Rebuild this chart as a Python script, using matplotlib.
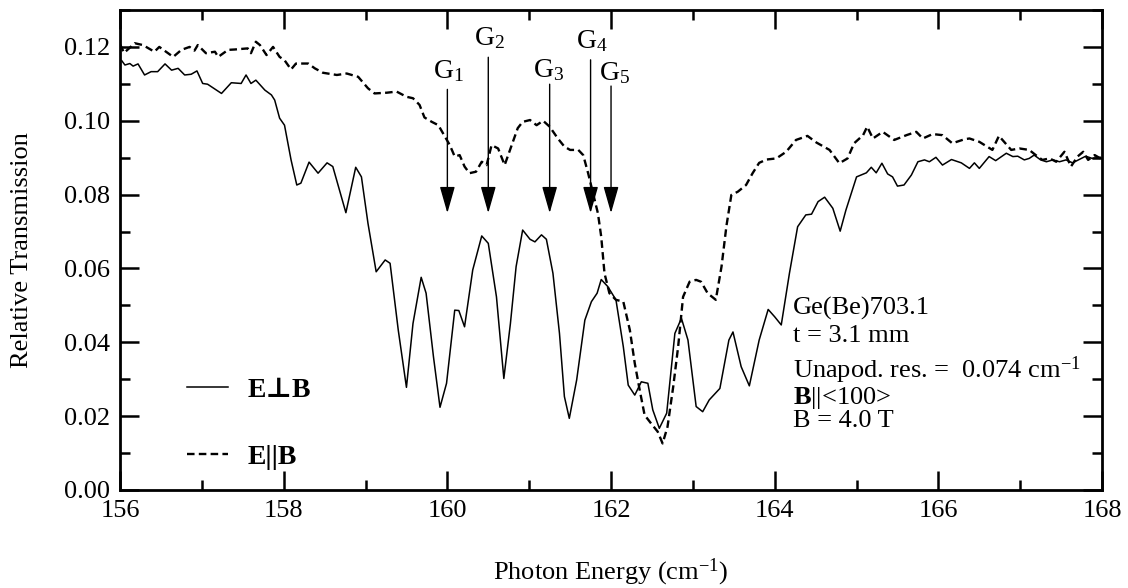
import matplotlib
matplotlib.use("Agg")
import matplotlib.pyplot as plt
from matplotlib.ticker import MultipleLocator, FormatStrFormatter
from matplotlib.font_manager import FontProperties

plt.rcParams['font.family'] = ['Liberation Serif', 'DejaVu Serif']
plt.rcParams['mathtext.fontset'] = 'custom'
plt.rcParams['mathtext.rm'] = 'Liberation Serif'
plt.rcParams['mathtext.bf'] = 'Liberation Serif:bold'
plt.rcParams['mathtext.it'] = 'Liberation Serif:italic'
plt.rcParams['mathtext.default'] = 'regular'

# ---- data: E perpendicular B (solid) ----
perp_E = [156.02, 156.06, 156.12, 156.16, 156.22, 156.30, 156.38, 156.46, 156.55, 156.63,
          156.71, 156.79, 156.87, 156.94, 157.01, 157.07, 157.24, 157.36, 157.48, 157.54,
          157.60, 157.66, 157.77, 157.85, 157.89, 157.95, 158.01, 158.09, 158.16, 158.21,
          158.31, 158.42, 158.53, 158.60, 158.76, 158.88, 158.95, 159.03, 159.13, 159.24,
          159.30, 159.40, 159.50, 159.58, 159.68, 159.74, 159.83, 159.91, 159.99, 160.09,
          160.14, 160.21, 160.31, 160.42, 160.50, 160.60, 160.69, 160.77, 160.84, 160.92,
          161.01, 161.07, 161.15, 161.21, 161.29, 161.37, 161.43, 161.49, 161.58, 161.68,
          161.76, 161.83, 161.88, 161.96, 162.06, 162.15, 162.21, 162.29, 162.37, 162.45,
          162.51, 162.59, 162.68, 162.78, 162.86, 162.94, 163.04, 163.12, 163.20, 163.33,
          163.44, 163.49, 163.59, 163.69, 163.81, 163.92, 164.00, 164.08, 164.18, 164.28,
          164.38, 164.45, 164.53, 164.61, 164.71, 164.80, 164.87, 165.00, 165.12, 165.18,
          165.24, 165.31, 165.38, 165.44, 165.50, 165.58, 165.67, 165.75, 165.83, 165.89,
          165.97, 166.05, 166.16, 166.28, 166.38, 166.44, 166.50, 166.62, 166.70, 166.83,
          166.91, 166.97, 167.05, 167.11, 167.17, 167.25, 167.32, 167.40, 167.48, 167.56,
          167.64, 167.72, 167.80, 167.88, 167.98]
perp_T = [0.1163, 0.1151, 0.1155, 0.1148, 0.1154, 0.1124, 0.1133, 0.1133, 0.1154, 0.1137,
          0.1142, 0.1124, 0.1126, 0.1135, 0.1101, 0.1099, 0.1074, 0.1103, 0.1101, 0.1124,
          0.1101, 0.1110, 0.1083, 0.1070, 0.1056, 0.1007, 0.0988, 0.0894, 0.0826, 0.0831,
          0.0888, 0.0858, 0.0886, 0.0876, 0.0751, 0.0874, 0.0848, 0.0722, 0.0591, 0.0623,
          0.0614, 0.0433, 0.0278, 0.0451, 0.0576, 0.0533, 0.0361, 0.0224, 0.0289, 0.0487,
          0.0486, 0.0442, 0.0596, 0.0688, 0.0668, 0.0523, 0.0302, 0.0450, 0.0605, 0.0704,
          0.0679, 0.0672, 0.0691, 0.0679, 0.0587, 0.0424, 0.0253, 0.0194, 0.0298, 0.0460,
          0.0510, 0.0533, 0.0570, 0.0551, 0.0515, 0.0388, 0.0284, 0.0257, 0.0293, 0.0289,
          0.0217, 0.0167, 0.0208, 0.0424, 0.0465, 0.0406, 0.0226, 0.0212, 0.0244, 0.0275,
          0.0406, 0.0428, 0.0334, 0.0282, 0.0406, 0.0489, 0.0469, 0.0447, 0.0587, 0.0713,
          0.0745, 0.0747, 0.0781, 0.0793, 0.0763, 0.0701, 0.0758, 0.0848, 0.0859, 0.0874,
          0.0859, 0.0885, 0.0856, 0.0848, 0.0823, 0.0826, 0.0853, 0.0889, 0.0894, 0.0889,
          0.0901, 0.0880, 0.0895, 0.0886, 0.0871, 0.0886, 0.0871, 0.0903, 0.0892, 0.0912,
          0.0903, 0.0904, 0.0894, 0.0898, 0.0907, 0.0894, 0.0889, 0.0894, 0.0889, 0.0894,
          0.0886, 0.0895, 0.0904, 0.0898, 0.0901]

# ---- data: E parallel B (dashed) ----
par_E = [156.00, 156.05, 156.18, 156.28, 156.42, 156.48, 156.65, 156.75, 156.85, 156.91,
         156.95, 157.05, 157.16, 157.20, 157.32, 157.40, 157.56, 157.60, 157.66, 157.71,
         157.79, 157.87, 157.95, 158.01, 158.09, 158.15, 158.30, 158.38, 158.48, 158.65,
         158.77, 158.91, 159.03, 159.11, 159.26, 159.38, 159.50, 159.58, 159.66, 159.72,
         159.81, 159.89, 159.97, 160.03, 160.09, 160.15, 160.21, 160.27, 160.35, 160.42,
         160.48, 160.54, 160.62, 160.70, 160.78, 160.86, 160.92, 161.01, 161.09, 161.17,
         161.25, 161.35, 161.43, 161.50, 161.60, 161.66, 161.72, 161.78, 161.84, 161.88,
         161.92, 161.98, 162.06, 162.15, 162.23, 162.29, 162.35, 162.41, 162.49, 162.57,
         162.63, 162.69, 162.76, 162.82, 162.88, 162.96, 163.04, 163.10, 163.18, 163.28,
         163.35, 163.41, 163.47, 163.55, 163.65, 163.73, 163.81, 163.90, 164.02, 164.14,
         164.26, 164.40, 164.51, 164.67, 164.79, 164.89, 164.97, 165.08, 165.13, 165.20,
         165.32, 165.46, 165.61, 165.73, 165.81, 165.93, 166.05, 166.17, 166.32, 166.38,
         166.50, 166.66, 166.74, 166.89, 166.99, 167.11, 167.19, 167.27, 167.36, 167.44,
         167.54, 167.62, 167.70, 167.77, 167.83, 167.91, 167.98]
par_T = [0.1207, 0.1184, 0.1210, 0.1205, 0.1187, 0.1200, 0.1173, 0.1192, 0.1200, 0.1190,
         0.1205, 0.1183, 0.1187, 0.1173, 0.1192, 0.1193, 0.1196, 0.1183, 0.1214, 0.1205,
         0.1178, 0.1200, 0.1173, 0.1164, 0.1139, 0.1155, 0.1155, 0.1142, 0.1130, 0.1124,
         0.1128, 0.1119, 0.1088, 0.1074, 0.1076, 0.1079, 0.1065, 0.1061, 0.1043, 0.1009,
         0.0997, 0.0988, 0.0957, 0.0934, 0.0903, 0.0907, 0.0876, 0.0858, 0.0862, 0.0889,
         0.0880, 0.0934, 0.0925, 0.0880, 0.0930, 0.0980, 0.0997, 0.1002, 0.0988, 0.1000,
         0.0984, 0.0952, 0.0930, 0.0921, 0.0921, 0.0907, 0.0858, 0.0803, 0.0749, 0.0686,
         0.0587, 0.0533, 0.0515, 0.0510, 0.0433, 0.0343, 0.0271, 0.0203, 0.0180, 0.0158,
         0.0126, 0.0171, 0.0280, 0.0388, 0.0523, 0.0564, 0.0569, 0.0564, 0.0533, 0.0515,
         0.0605, 0.0715, 0.0799, 0.0808, 0.0826, 0.0858, 0.0886, 0.0895, 0.0898, 0.0916,
         0.0948, 0.0959, 0.0941, 0.0921, 0.0885, 0.0898, 0.0939, 0.0961, 0.0984, 0.0952,
         0.0970, 0.0948, 0.0961, 0.0970, 0.0952, 0.0964, 0.0961, 0.0939, 0.0950, 0.0952,
         0.0943, 0.0921, 0.0959, 0.0921, 0.0925, 0.0921, 0.0907, 0.0894, 0.0898, 0.0889,
         0.0916, 0.0876, 0.0903, 0.0916, 0.0894, 0.0907, 0.0898]

# ---- arrows G1..G5 ----
arrow_E = [160.0, 160.5, 161.25, 161.75, 162.0]
arrow_top = [0.1085, 0.1172, 0.1099, 0.1165, 0.1094]
arrow_tip = [0.075, 0.075, 0.075, 0.075, 0.075]
label_E = [160.01, 160.52, 161.24, 161.76, 162.04]
label_T = [0.1116, 0.1205, 0.1118, 0.1197, 0.1110]
label_txt = ["G$_1$", "G$_2$", "G$_3$", "G$_4$", "G$_5$"]

legend_labels = ["E\u22a5B", "E||B"]
info_lines = ["Ge(Be)703.1", "t = 3.1 mm", "Unapod. res. =  0.074 cm$^{-1}$",
              "$\\mathbf{B}$||<100>", "B = 4.0 T"]
info_y = [0.3646, 0.309, 0.2333, 0.180, 0.131]

fig = plt.figure(figsize=(11.28, 5.88), dpi=100)
ax = fig.add_axes([0.1064, 0.1667, 0.8706, 0.8163])

l1, = ax.plot(perp_E, perp_T, color='black', lw=1.1, label=legend_labels[0])
l2, = ax.plot(par_E, par_T, color='black', lw=1.7, dashes=(3.2, 1.8), label=legend_labels[1])

ax.set_xlim(156, 168)
ax.set_ylim(0, 0.13)
ax.xaxis.set_major_locator(MultipleLocator(2))
ax.xaxis.set_minor_locator(MultipleLocator(1))
ax.yaxis.set_major_locator(MultipleLocator(0.02))
ax.yaxis.set_minor_locator(MultipleLocator(0.01))
ax.yaxis.set_major_formatter(FormatStrFormatter('%.2f'))
ax.tick_params(which='both', direction='in', top=True, right=True, width=1.8,
               labelsize=19, pad=7)
ax.tick_params(which='major', length=14)
ax.tick_params(which='minor', length=7)
for s in ax.spines.values():
    s.set_linewidth(2)

ax.set_xlabel("Photon Energy (cm$^{-1}$)", fontsize=19)
ax.xaxis.set_label_coords(0.5, -0.139)
ax.set_ylabel("Relative Transmission", fontsize=19)
ax.yaxis.set_label_coords(-0.089, 0.5)

for e, t0, t1 in zip(arrow_E, arrow_top, arrow_tip):
    ax.annotate('', xy=(e, t1), xytext=(e, t0),
                arrowprops=dict(arrowstyle='-|>,head_length=1.65,head_width=0.47',
                                mutation_scale=10, lw=1.0, color='black',
                                shrinkA=0, shrinkB=0))
for e, t, s in zip(label_E, label_T, label_txt):
    ax.text(e, t, s, ha='center', va='baseline', fontsize=20)

for s, y in zip(info_lines, info_y):
    ax.text(0.6853, y, s, transform=ax.transAxes, ha='left', va='baseline', fontsize=19)

leg_font = FontProperties(family=['Liberation Serif', 'DejaVu Serif'], weight='bold', size=20)
ax.legend(handles=[l1, l2], loc='upper left', bbox_to_anchor=(0.068, 0.234),
          frameon=False, prop=leg_font, handlelength=1.5, handletextpad=0.7,
          labelspacing=1.5, borderpad=0, borderaxespad=0)

fig.savefig("out.png", dpi=100)
